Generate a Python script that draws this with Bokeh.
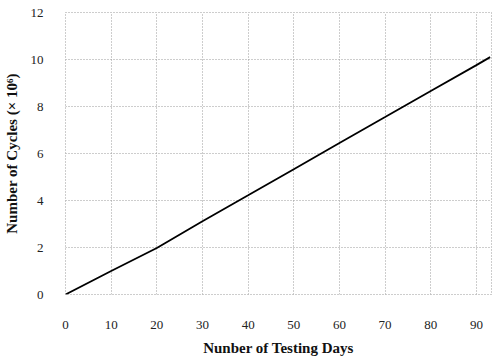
from bokeh.plotting import figure
from bokeh.models import Range1d, FixedTicker
from bokeh.embed import file_html
from bokeh.resources import INLINE

days = [0, 10, 20, 30, 40, 50, 60, 70, 80, 90, 93]
cycles = [0, 1.0, 1.98, 3.12, 4.22, 5.33, 6.45, 7.55, 8.66, 9.76, 10.1]
x_ticks = [0, 10, 20, 30, 40, 50, 60, 70, 80, 90]
y_ticks = [0, 2, 4, 6, 8, 10, 12]

p = figure(width=492, height=358, output_backend="svg", toolbar_location=None,
           x_range=Range1d(0, 93.3), y_range=Range1d(0, 12),
           min_border_left=56, min_border_right=1, min_border_top=12, min_border_bottom=10)

p.line(days, cycles, line_color="black", line_width=1.8)

for ax in (p.xaxis, p.yaxis):
    ax.axis_line_color = None
    ax.major_tick_line_color = None
    ax.minor_tick_line_color = None
    ax.major_label_text_font = "Liberation Serif"
    ax.major_label_text_font_size = "13px"
    ax.major_label_text_color = "#222222"
    ax.axis_label_text_font = "Liberation Serif"
    ax.axis_label_text_font_style = "bold"
    ax.axis_label_text_font_size = "15px"
    ax.axis_label_text_color = "#111111"

p.xaxis.ticker = FixedTicker(ticks=x_ticks)
p.yaxis.ticker = FixedTicker(ticks=y_ticks)
p.xaxis.major_label_standoff = 20
p.yaxis.major_label_standoff = 16
p.xaxis.axis_label = "Nunber of Testing Days"
p.yaxis.axis_label = "Number of Cycles (× 10⁶)"
p.xaxis.axis_label_standoff = 8
p.yaxis.axis_label_standoff = 8

for g in (p.xgrid, p.ygrid):
    g.grid_line_color = "#9a9a9a"
    g.grid_line_dash = "1 2"
    g.grid_line_width = 1

p.outline_line_color = "#9a9a9a"
p.outline_line_dash = "1 2"
p.background_fill_color = "white"
p.border_fill_color = "white"

open("out.html", "w").write(file_html(p, INLINE))
